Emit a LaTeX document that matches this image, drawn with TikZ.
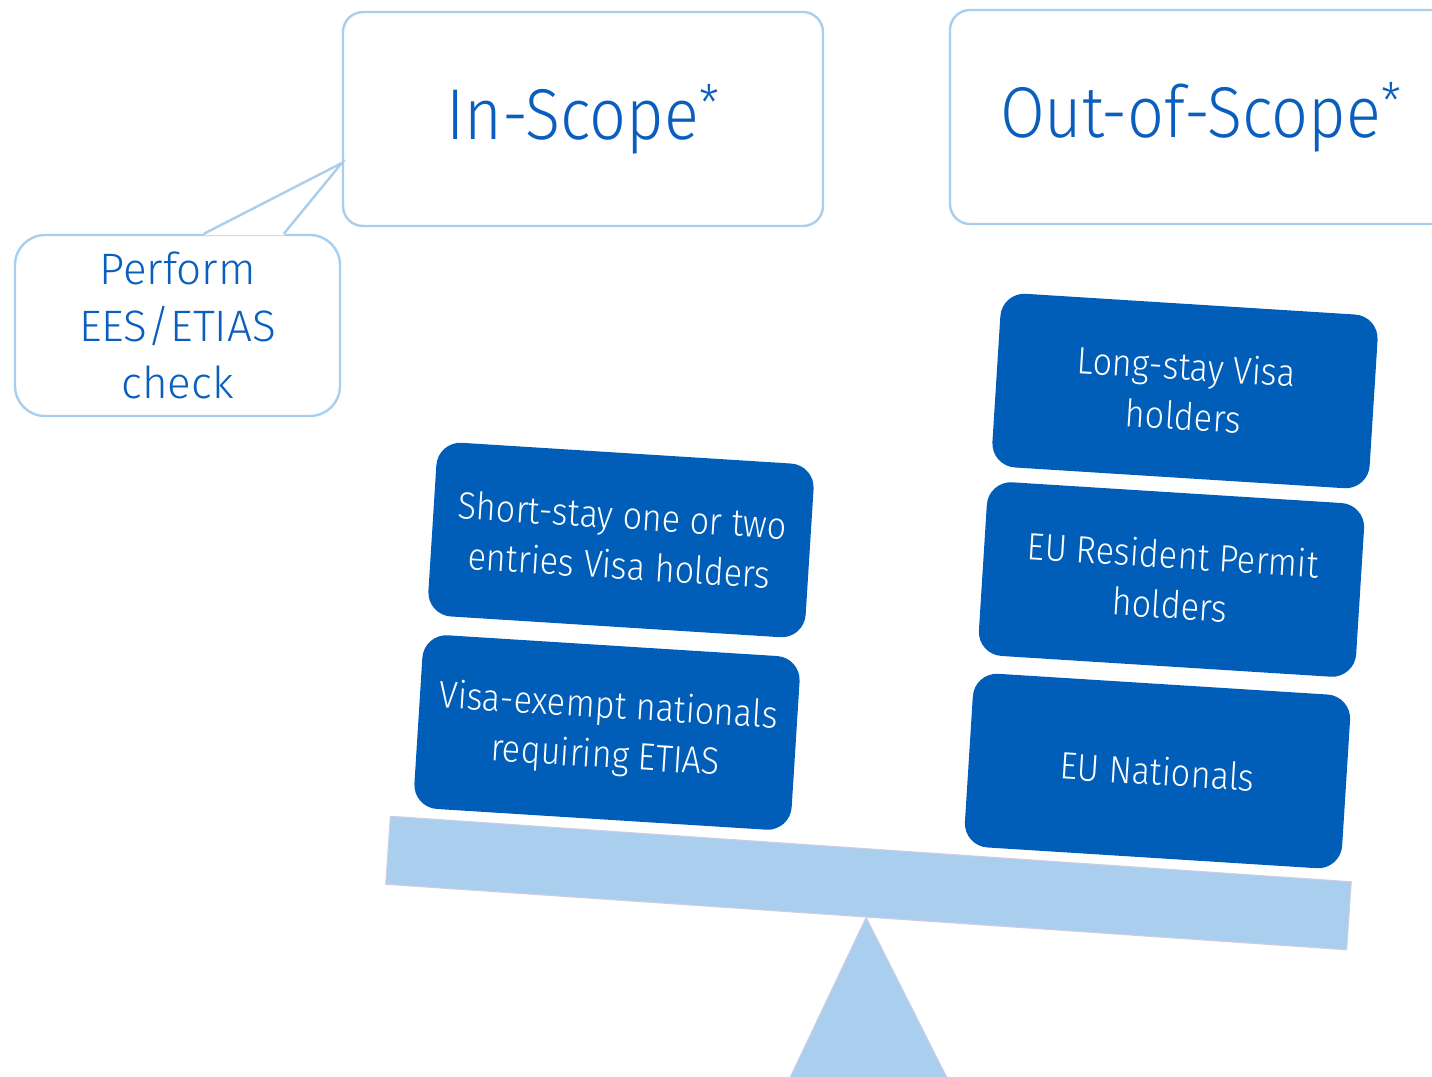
\documentclass[tikz,border=0pt]{standalone}
\usepackage{fontspec}
\setmainfont{Fira Sans Light}[FakeStretch=0.9]
\newfontfamily\callfont{Fira Sans Light}
\usetikzlibrary{calc}
\definecolor{darkb}{HTML}{005EB8}
\definecolor{lightb}{HTML}{A9CEEE}
\definecolor{textb}{HTML}{0A5EBE}
\definecolor{beamedge}{HTML}{C9CDE6}
\begin{document}
\begin{tikzpicture}[x=0.5pt,y=-0.5pt,
  scopebox/.style={draw=lightb, line width=1.2pt, rounded corners=10pt, fill=white,
    minimum height=107pt, inner sep=0pt, text=textb, font=\fontsize{36}{40}\selectfont},
  group/.style={fill=darkb, rounded corners=12pt, minimum width=189pt, minimum height=87pt,
    rotate=-3.6, text=white, align=center, font=\fontsize{19}{25}\selectfont, inner sep=0pt},
  callout/.style={draw=lightb, line width=1.2pt, rounded corners=15pt, fill=white,
    minimum width=162.5pt, minimum height=90.5pt, inner sep=0pt, text=textb, align=center,
    font=\callfont\fontsize{22}{28.5}\selectfont},
  beamstyle/.style={fill=lightb, draw=beamedge, line width=0.6pt, minimum width=481.5pt,
    minimum height=34pt, rotate=-3.9, inner sep=0pt},
  lightline/.style={draw=lightb, line width=1.2pt, line join=miter}
  ]
\clip (0,0) rectangle (1432,1077);
% scope boxes
\node[scopebox, minimum width=240pt] (inscope) at (583,119) {\raisebox{-3pt}{In-Scope\textsuperscript{*}}};
\node[scopebox, minimum width=251pt] (outscope) at (1201,117) {\raisebox{-3pt}{Out-of-Scope\textsuperscript{*}}};
% callout
\node[callout] (call) at (177.5,325.5) {Perform\\EES/ETIAS\\check};
\path (inscope.west) ++(0,44) coordinate (tip);
\coordinate (pa) at ($(call.north west)+(190,0)$);
\coordinate (pb) at ($(call.north west)+(270,0)$);
\fill[white] ($(pa)+(0,1.5)$) -- (tip) -- ($(pb)+(0,1.5)$) -- cycle;
\draw[lightline] (pa) -- (tip) -- (pb);
% fulcrum and beam
\node[beamstyle] (beam) at (868.5,883) {};
\coordinate (base1) at (789,1080);
\coordinate (base2) at (948,1080);
\filldraw[fill=lightb, draw=beamedge, line width=0.6pt] (beam.south) -- (base2) -- (base1) -- cycle;
% groups
\node[group] (short) at (621,540) {Short-stay one or two\\entries Visa holders};
\node[group] (exempt) at (607,732.5) {Visa-exempt nationals\\requiring ETIAS};
\node[group] (long) at (1185,391) {Long-stay Visa\\holders};
\node[group] (resident) at (1171.5,579.5) {EU Resident Permit\\holders};
\node[group] (eunat) at (1157.5,771) {EU Nationals};
\end{tikzpicture}
\end{document}
